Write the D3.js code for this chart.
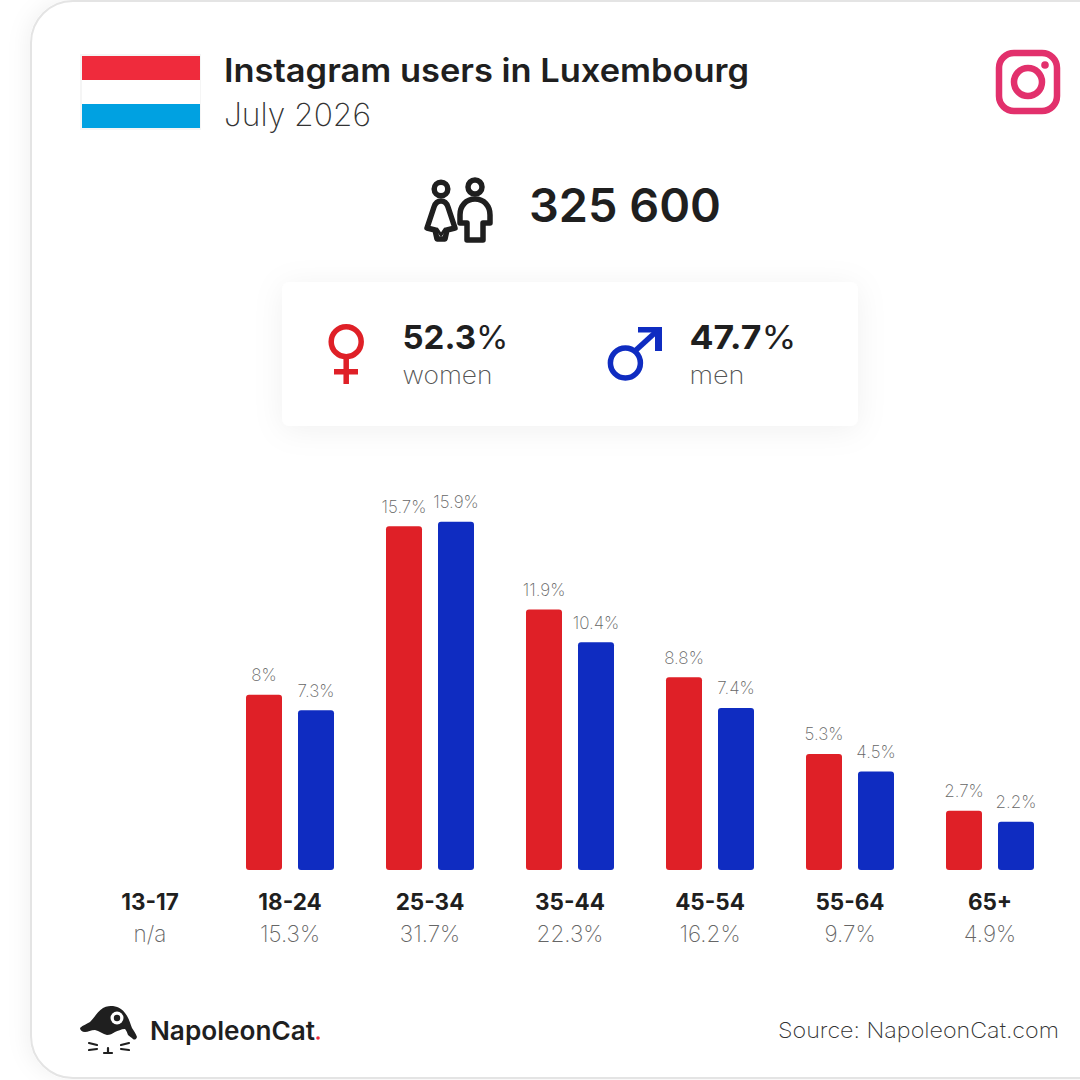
<!DOCTYPE html>
<html>
<head>
<meta charset="utf-8">
<script src="https://cdn.jsdelivr.net/npm/d3@7"></script>
<style>
  html, body { margin: 0; padding: 0; background: #fff; }
  svg { display: block; }
  text { font-family: Inter, "Noto Sans", sans-serif; }
</style>
</head>
<body>
<svg id="chart" width="1080" height="1080"></svg>
<script>
// age groups and shares, in percent of all users
const ageGroups = ["13-17", "18-24", "25-34", "35-44", "45-54", "55-64", "65+"];
const womenValues = [null, 8, 15.7, 11.9, 8.8, 5.3, 2.7];
const menValues = [null, 7.3, 15.9, 10.4, 7.4, 4.5, 2.2];
const groupTotals = ["n/a", "15.3%", "31.7%", "22.3%", "16.2%", "9.7%", "4.9%"];
const genders = ["women", "men"];
const genderShares = ["52.3", "47.7"];
const totalUsers = "325 600";

const red = "#df2027";
const blue = "#0f2cc1";
const dark = "#1f1f1f";

const svg = d3.select("#chart");
const defs = svg.append("defs");

const cardShadow = defs.append("filter").attr("id", "cardShadow")
    .attr("x", "-20%").attr("y", "-20%").attr("width", "140%").attr("height", "140%");
cardShadow.append("feDropShadow").attr("dx", -4).attr("dy", 0)
    .attr("stdDeviation", 10).attr("flood-color", "#000").attr("flood-opacity", 0.05);

const boxShadow = defs.append("filter").attr("id", "boxShadow")
    .attr("x", "-20%").attr("y", "-40%").attr("width", "140%").attr("height", "180%");
boxShadow.append("feDropShadow").attr("dx", 0).attr("dy", 4)
    .attr("stdDeviation", 15).attr("flood-color", "#000").attr("flood-opacity", 0.06);

// outer card
svg.append("rect")
    .attr("x", 31).attr("y", 1).attr("width", 1120).attr("height", 1077).attr("rx", 42)
    .attr("fill", "#fff").attr("stroke", "#e4e4e4").attr("stroke-width", 2)
    .attr("filter", "url(#cardShadow)");

// text helper, textLength widens the stand-in font to the original widths
function label(g, str, x, y, size, weight, fill, width) {
    const t = g.append("text")
        .attr("x", x).attr("y", y)
        .attr("font-size", size).attr("font-weight", weight).attr("fill", fill)
        .text(str);
    if (width) t.attr("textLength", width).attr("lengthAdjust", "spacingAndGlyphs");
    return t;
}

// header
const header = svg.append("g");
header.append("rect").attr("x", 80).attr("y", 54).attr("width", 121).attr("height", 76).attr("fill", "#f5f5f5");
header.append("rect").attr("x", 82).attr("y", 56).attr("width", 118).attr("height", 24).attr("fill", "#ef2b3c");
header.append("rect").attr("x", 82).attr("y", 80).attr("width", 118).attr("height", 24).attr("fill", "#fff");
header.append("rect").attr("x", 82).attr("y", 104).attr("width", 118).attr("height", 24).attr("fill", "#00a1e1");
label(header, "Instagram users in Luxembourg", 224, 82, 32, 600, dark, 525);
label(header, "July 2026", 224, 126, 32, 200, "#333", 147);

// instagram icon
const ig = svg.append("g").attr("fill", "none").attr("stroke", "#e2306c").attr("stroke-width", 6.5);
ig.append("rect").attr("x", 999).attr("y", 53).attr("width", 58).attr("height", 58).attr("rx", 15);
ig.append("circle").attr("cx", 1028).attr("cy", 82).attr("r", 14);
ig.append("circle").attr("cx", 1045).attr("cy", 65).attr("r", 3.8).attr("fill", "#e2306c").attr("stroke", "none");

// total with people icon
const people = svg.append("g").attr("fill", "none").attr("stroke", dark).attr("stroke-width", 5.5).attr("stroke-linejoin", "round").attr("stroke-linecap", "round");
people.append("circle").attr("cx", 441).attr("cy", 189).attr("r", 6.8);
people.append("path").attr("d", "M441 201c4 0 6 3 7 6l7 21-8 2-2 9h-8l-2-9-8-2 7-21c1-3 3-6 7-6z");
people.append("path").attr("d", "M437 229l4 6 4-6").attr("stroke-width", 3);
people.append("circle").attr("cx", 475).attr("cy", 187).attr("r", 7);
people.append("path").attr("d", "M475 199c9 0 15 7 15 16v8h-7v17h-16v-17h-7v-8c0-9 6-16 15-16z");
label(svg, totalUsers, 529, 222, 46, 600, dark, 192);

// gender box
const box = svg.append("g");
box.append("rect").attr("x", 282).attr("y", 282).attr("width", 576).attr("height", 144).attr("rx", 8)
    .attr("fill", "#fff").attr("filter", "url(#boxShadow)");

const venus = box.append("g").attr("fill", "none").attr("stroke", red).attr("stroke-width", 5.5);
venus.append("circle").attr("cx", 346.2).attr("cy", 341.7).attr("r", 15);
venus.append("path").attr("d", "M346.2 357V384M334 371.7H358");

const mars = box.append("g").attr("fill", "none").attr("stroke", blue).attr("stroke-width", 5.5);
mars.append("circle").attr("cx", 625.4).attr("cy", 363).attr("r", 15);
mars.append("path").attr("d", "M635 351L658 330");
mars.append("path").attr("d", "M638 327H662V351H655V332.5H638Z").attr("fill", blue).attr("stroke", "none");

const genderX = [402.5, 689.5];
const shareWidths = [106, 107];
const nameWidths = [90, 55];
genders.forEach((g, i) => {
    const t = label(box, genderShares[i], genderX[i], 349, 33, 700, dark, shareWidths[i]);
    t.append("tspan").attr("font-weight", 400).text("%");
    label(box, g, genderX[i], 384, 24, 200, "#555", nameWidths[i]);
});

// bars
const x = d3.scaleBand().domain(ageGroups).range([80, 1060]);
const y = d3.scaleLinear().domain([0, 20]).range([870, 432]);
const barWidth = 36;
const barOffset = { women: -44, men: 8 };

const series = [
    { key: "women", values: womenValues, color: red },
    { key: "men", values: menValues, color: blue }
];

series.forEach(s => {
    const rows = ageGroups.map((a, i) => ({ age: a, value: s.values[i] })).filter(d => d.value !== null);
    const cx = d => x(d.age) + x.bandwidth() / 2 + barOffset[s.key];

    svg.append("g").selectAll("rect")
        .data(rows)
        .join("rect")
        .attr("x", cx)
        .attr("y", d => y(d.value))
        .attr("width", barWidth)
        .attr("height", d => y(0) - y(d.value))
        .attr("rx", 3)
        .attr("fill", s.color);

    svg.append("g").selectAll("text")
        .data(rows)
        .join("text")
        .attr("x", d => cx(d) + barWidth / 2)
        .attr("y", d => y(d.value) - 13.5)
        .attr("text-anchor", "middle")
        .attr("font-size", 17)
        .attr("font-weight", 200)
        .attr("fill", "#666")
        .text(d => d.value + "%");
});

// age group labels
const xAxis = svg.append("g")
    .attr("transform", "translate(0,910)")
    .call(d3.axisBottom(x).tickSize(0).tickPadding(0));
xAxis.select(".domain").remove();
xAxis.selectAll("text")
    .attr("dy", 0)
    .attr("y", 0)
    .attr("font-family", "Inter")
    .attr("font-size", 22.5)
    .attr("font-weight", 700)
    .attr("fill", dark);

svg.append("g").selectAll("text")
    .data(groupTotals)
    .join("text")
    .attr("x", (d, i) => x(ageGroups[i]) + x.bandwidth() / 2)
    .attr("y", 942)
    .attr("text-anchor", "middle")
    .attr("font-size", 22.5)
    .attr("font-weight", 200)
    .attr("fill", "#666")
    .text(d => d);

// footer logo
const logo = svg.append("g");
logo.append("path")
    .attr("fill", dark)
    .attr("d", "M80 1028C83 1025 87 1024 90 1022C95 1017 98 1011 103 1008C107 1006 110 1006 113 1006C119 1007 123 1010 125 1013C129 1018 130 1023 132 1028C134 1031 136 1034 137 1037C136 1040 134 1040 133 1039C131 1037 129 1036 128 1035C127 1032 126 1030 125 1029C121 1029 118 1031 115 1032C112 1034 110 1035 107 1035C103 1034 99 1031 95 1030C91 1030 88 1032 85 1032C82 1032 80 1030 80 1028Z");
logo.append("circle").attr("cx", 117).attr("cy", 1018).attr("r", 6.5).attr("fill", "#fff");
logo.append("circle").attr("cx", 117).attr("cy", 1018).attr("r", 3.2).attr("fill", dark);
logo.append("path")
    .attr("fill", "none").attr("stroke", dark).attr("stroke-width", 2.2).attr("stroke-linecap", "round")
    .attr("d", "M89 1043L97 1045M89 1050L97 1049M129 1043L121 1045M129 1050L121 1049M108 1048V1052M104 1053H112");
label(logo, "NapoleonCat", 150, 1040, 26, 600, dark, 165);
logo.append("circle").attr("cx", 318).attr("cy", 1038).attr("r", 1.8).attr("fill", "#ef2b3c");

label(svg, "Source: NapoleonCat.com", 778, 1038, 22, 200, "#333", 281);
</script>
</body>
</html>
